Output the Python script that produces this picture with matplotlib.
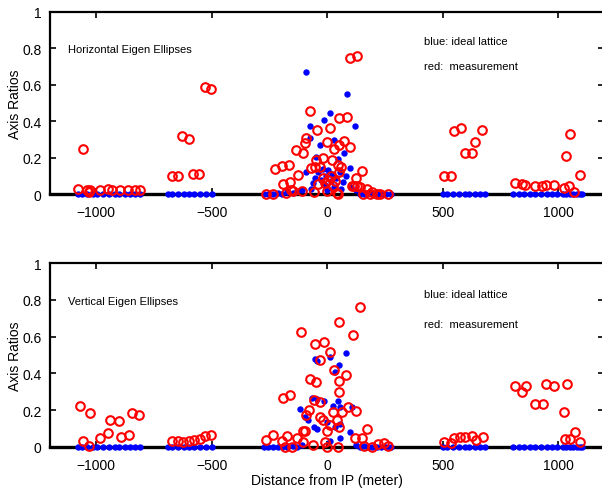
import matplotlib.pyplot as plt

plt.rcParams['font.family'] = ['Liberation Sans', 'DejaVu Sans']

# blue points in the arcs (ideal lattice has no coupling there)
arc_s = [-1080, -1060, -1040, -1015, -995, -970, -945, -920, -900, -875, -855, -830, -810,
         -690, -670, -645, -620, -600, -575, -550, -525, -500,
         500, 520, 545, 570, 595, 615, 640, 660, 685,
         805, 830, 850, 880, 900, 925, 950, 975, 995,
         1020, 1035, 1050, 1065, 1080, 1095, 1105]
arc_ideal = [0, 0, 0, 0, 0, 0, 0, 0, 0, 0, 0, 0, 0,
             0, 0, 0, 0, 0, 0, 0, 0, 0,
             0, 0, 0, 0, 0, 0, 0, 0, 0,
             0, 0, 0, 0, 0, 0, 0, 0, 0,
             0, 0, 0, 0, 0, 0, 0]

# horizontal, ideal lattice near the IP
h_ideal_s = [-275, -255, -235, -215, -195, -175, -150, -130, -110, -92, -91, -74, -74, -70, -60,
             -52, -48, -40, -33, -25, -20, -14, -10, -5, 0, 5, 13, 15, 20, 29, 30, 40, 45, 55,
             60, 68, 74, 80, 87, 97, 105, 120, 125, 140, 160, 175, 195, 215, 235, 255, 275]
h_ideal_r = [0.0, 0.0, 0.0, 0.005, 0.0, 0.01, 0.005, 0.015, 0.02, 0.122, 0.672, 0.374, 0.31, 0.03, 0.06,
             0.09, 0.206, 0.12, 0.268, 0.08, 0.14, 0.405, 0.05, 0.1, 0.02, 0.13, 0.442, 0.07, 0.11, 0.298, 0.04, 0.09, 0.195, 0.12,
             0.03, 0.067, 0.223, 0.1, 0.548, 0.144, 0.04, 0.371, 0.02, 0.0, 0.0, 0.005, 0.0, 0.0, 0.0, 0.0, 0.0]

# horizontal, measurement
h_meas_s = [-1078, -1056, -1039, -1032, -1026, -983, -948, -931, -896, -861, -831, -810,
            -672, -644, -629, -597, -583, -553, -528, -502,
            -265, -235, -226, -195, -190, -177, -165, -159, -156, -148, -134, -127, -111, -105,
            -97, -90, -74, -71, -59, -52, -49, -46, -40, -29, -20, -16, -10, -1, 0, 5, 12, 15,
            22, 25, 29, 35, 42, 45, 48, 52, 52, 53, 61, 72, 87, 97, 100, 107, 114, 123, 130,
            131, 143, 150, 157, 172, 186, 193, 215, 227, 263,
            504, 535, 550, 581, 597, 626, 641, 672, 811, 843, 857, 900, 929, 948, 980,
            1026, 1032, 1045, 1052, 1069, 1095]
h_meas_r = [0.03, 0.245, 0.02, 0.01, 0.025, 0.025, 0.03, 0.02, 0.02, 0.025, 0.02, 0.02,
            0.097, 0.097, 0.32, 0.30, 0.11, 0.11, 0.585, 0.575,
            0.0, 0.0, 0.137, 0.152, 0.055, 0.005, 0.159, 0.064, 0.022, 0.015, 0.241, 0.106, 0.018, 0.223,
            0.278, 0.305, 0.456, 0.141, 0.01, 0.146, 0.188, 0.352, 0.055, 0.15, 0.09, 0.199, 0.06, 0.018, 0.283, 0.08, 0.365, 0.1,
            0.186, 0.045, 0.247, 0.07, 0.005, 0.0, 0.159, 0.415, 0.268, 0.119, 0.146, 0.292, 0.422, 0.258, 0.745, 0.046, 0.045, 0.091, 0.756,
            0.046, 0.04, 0.124, 0.0, 0.027, 0.0, 0.013, 0.0, 0.0, 0.0,
            0.097, 0.097, 0.347, 0.362, 0.225, 0.228, 0.283, 0.35, 0.06, 0.055, 0.05, 0.042, 0.042, 0.051, 0.049,
            0.033, 0.208, 0.042, 0.327, 0.009, 0.104]

# vertical, ideal lattice near the IP
v_ideal_s = [-275, -255, -235, -215, -195, -175, -150, -130, -117, -110, -95, -81, -66, -59, -52,
             -45, -45, -45, -13, -1, 13, 13, 27, 35, 35, 46, 49, 56, 56, 56, 81, 97, 107,
             125, 140, 160, 175, 195, 215, 235, 255, 275]
v_ideal_r = [0.0, 0.0, 0.0, 0.0, 0.0, 0.0, 0.005, 0.0, 0.207, 0.01, 0.165, 0.147, 0.266, 0.11, 0.478,
             0.47, 0.261, 0.098, 0.248, 0.134, 0.487, 0.034, 0.224, 0.406, 0.107, 0.252, 0.447, 0.216, 0.125, 0.049, 0.513, 0.08, 0.219,
             0.01, 0.0, 0.005, 0.0, 0.0, 0.0, 0.0, 0.0, 0.0]

# vertical, measurement
v_meas_s = [-1072, -1055, -1033, -1026, -983, -950, -939, -903, -892, -860, -845, -814,
            -672, -644, -625, -600, -578, -550, -528, -503,
            -265, -235, -196, -190, -182, -175, -159, -153, -131, -114, -105, -103, -95, -92,
            -77, -74, -62, -56, -53, -49, -33, -30, -30, -16, -13, -9, -1, 1, 13, 14, 27,
            30, 42, 45, 49, 49, 51, 53, 64, 81, 88, 110, 121, 126, 143, 150, 160, 172, 193,
            222, 245, 262,
            504, 535, 548, 576, 597, 626, 645, 674, 811, 843, 860, 900, 934, 948, 980,
            1026, 1030, 1040, 1052, 1071, 1095]
v_meas_r = [0.224, 0.031, 0.004, 0.185, 0.047, 0.074, 0.148, 0.14, 0.056, 0.065, 0.185, 0.174,
            0.034, 0.034, 0.029, 0.031, 0.04, 0.043, 0.061, 0.065,
            0.04, 0.065, 0.034, 0.266, 0.0, 0.061, 0.284, 0.0, 0.049, 0.623, 0.026, 0.089, 0.089, 0.176,
            0.201, 0.37, 0.012, 0.255, 0.561, 0.355, 0.471, 0.243, 0.161, 0.147, 0.569, 0.026, 0.0, 0.089, 0.12, 0.518, 0.188,
            0.417, 0.147, 0.0, 0.357, 0.107, 0.678, 0.299, 0.188, 0.393, 0.216, 0.607, 0.049, 0.197, 0.762, 0.049, 0.007, 0.098, 0.0,
            0.016, 0.02, 0.005,
            0.029, 0.022, 0.049, 0.053, 0.053, 0.058, 0.04, 0.053, 0.33, 0.297, 0.33, 0.234, 0.234, 0.342, 0.33,
            0.189, 0.043, 0.342, 0.043, 0.08, 0.029]

panels = [
    ("Horizontal Eigen Ellipses", h_ideal_s, h_ideal_r, h_meas_s, h_meas_r, 0.84, 0.70),
    ("Vertical Eigen Ellipses", v_ideal_s, v_ideal_r, v_meas_s, v_meas_r, 0.83, 0.67),
]
yticks = [0, 0.2, 0.4, 0.6, 0.8, 1]
ytick_labels = ["0", "0.2", "0.4", "0.6", "0.8", "1"]
xticks = [-1000, -500, 0, 500, 1000]

fig = plt.figure(figsize=(6.02, 4.89), dpi=100)
positions = [[0.083, 0.601, 0.921, 0.373], [0.083, 0.084, 0.921, 0.376]]

for i, (title, bs, br, rs, rr, yb, yr) in enumerate(panels):
    ax = fig.add_axes(positions[i])
    ax.plot(arc_s, arc_ideal, 'o', color='blue', markersize=4.6, markeredgewidth=0,
            clip_on=False, zorder=3)
    ax.plot(bs, br, 'o', color='blue', markersize=4.6, markeredgewidth=0,
            clip_on=False, zorder=3)
    ax.plot(rs, rr, 'o', markerfacecolor='none', markeredgecolor='red', markersize=6.2,
            markeredgewidth=1.5, clip_on=False, zorder=4)
    ax.set_xlim(-1200, 1200)
    ax.set_ylim(0, 1)
    ax.set_xticks(xticks)
    ax.set_yticks(yticks)
    ax.set_yticklabels(ytick_labels)
    ax.tick_params(direction='in', top=True, right=True, length=4, width=1.2,
                   labelsize=10)
    ax.tick_params(axis='x', pad=8)
    ax.tick_params(axis='y', pad=6)
    for side in ['left', 'top', 'right']:
        ax.spines[side].set_linewidth(1.6)
    ax.spines['bottom'].set_linewidth(2.4)
    ax.spines['bottom'].set_zorder(2)
    ax.set_ylabel("Axis Ratios", fontsize=10)
    ax.yaxis.set_label_coords(-0.05, 0.5)
    ax.text(-1120, 0.795, title, fontsize=8, va='center', ha='left')
    ax.text(420, yb, "blue: ideal lattice", fontsize=8, va='center', ha='left')
    ax.text(420, yr, "red:  measurement", fontsize=8, va='center', ha='left')
    if i == 1:
        ax.set_xlabel("Distance from IP (meter)", fontsize=10, labelpad=1)

fig.savefig("out.png", dpi=100)
